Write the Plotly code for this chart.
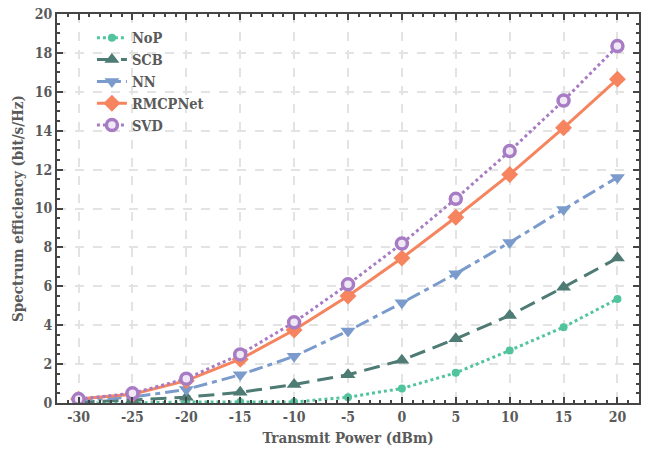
import plotly.graph_objects as go

power = [-30, -25, -20, -15, -10, -5, 0, 5, 10, 15, 20]
nop = [0.0, 0.0, 0.05, 0.05, 0.05, 0.3, 0.75, 1.55, 2.7, 3.9, 5.35]
scb = [0.05, 0.15, 0.3, 0.55, 0.95, 1.45, 2.2, 3.3, 4.5, 5.95, 7.45]
nn = [0.15, 0.3, 0.7, 1.45, 2.4, 3.7, 5.15, 6.65, 8.25, 9.95, 11.6]
rmcp = [0.2, 0.45, 1.15, 2.25, 3.75, 5.5, 7.45, 9.55, 11.75, 14.15, 16.65]
svd = [0.2, 0.5, 1.25, 2.5, 4.15, 6.1, 8.2, 10.5, 12.95, 15.55, 18.35]

x_ticks = [-30, -25, -20, -15, -10, -5, 0, 5, 10, 15, 20]
y_ticks = [0, 2, 4, 6, 8, 10, 12, 14, 16, 18, 20]

FONT = "DejaVu Serif Condensed, DejaVu Serif"
TXT = "#5a5a5a"

fig = go.Figure()
series = [
    ("NoP", nop, "#52c49d", "dot", dict(symbol="circle", size=8)),
    ("SCB", scb, "#4e7b74", "16px,8px", dict(symbol="triangle-up", size=13)),
    ("NN", nn, "#7b9bcd", "14px,5px,5px,5px", dict(symbol="triangle-down", size=13)),
    ("RMCPNet", rmcp, "#f5845f", "solid", dict(symbol="diamond", size=13)),
]
for name, ys, col, dash, mk in series:
    fig.add_trace(go.Scatter(
        x=power, y=ys, name=name, mode="lines+markers",
        line=dict(color=col, width=3, dash=dash),
        marker=dict(color=col, **mk),
    ))
fig.add_trace(go.Scatter(
    x=power, y=svd, name="SVD", mode="lines+markers",
    line=dict(color="#a77cc4", width=3, dash="dot"),
    marker=dict(symbol="circle", size=11, color="#f1e8f6",
                line=dict(color="#a77cc4", width=3.5)),
))

axis_common = dict(
    showline=True, linecolor="#454545", linewidth=2, mirror="allticks",
    ticks="inside", ticklen=6, tickwidth=2, tickcolor="#454545",
    showgrid=True, gridcolor="#e3e3e3", gridwidth=1.5, griddash="dash",
    zeroline=False,
    tickfont=dict(family=FONT, size=14, color=TXT, weight="bold"),
)
fig.update_xaxes(
    range=[-32, 22], tickvals=x_ticks, ticktext=[str(v) for v in x_ticks],
    title=dict(text="Transmit Power (dBm)", standoff=9,
               font=dict(family=FONT, size=15, color=TXT, weight="bold")),
    minor=dict(dtick=1, tick0=0, ticks="inside", ticklen=3, tickwidth=1.5,
               tickcolor="#454545", showgrid=False),
    **axis_common,
)
fig.update_yaxes(
    range=[0, 20], tickvals=y_ticks, ticktext=[str(v) for v in y_ticks],
    title=dict(text="Spectrum efficiency (bit/s/Hz)", standoff=7,
               font=dict(family=FONT, size=15, color=TXT, weight="bold")),
    minor=dict(dtick=0.5, tick0=0, ticks="inside", ticklen=3, tickwidth=1.5,
               tickcolor="#454545", showgrid=False),
    **axis_common,
)
fig.update_layout(
    width=647, height=450,
    margin=dict(l=57, r=6, t=14, b=47),
    paper_bgcolor="white", plot_bgcolor="white",
    legend=dict(x=0.06, y=0.98, xanchor="left", yanchor="top",
                bgcolor="rgba(255,255,255,0)",
                font=dict(family=FONT, size=14.5, color=TXT, weight="bold")),
)
fig.write_html("out.html", config={"displayModeBar": False})

with open("out.html", "r", encoding="utf-8") as f:
    html = f.read()
html = html.replace("<body>", '<body style="margin:0;padding:0;overflow:hidden">', 1)
with open("out.html", "w", encoding="utf-8") as f:
    f.write(html)
